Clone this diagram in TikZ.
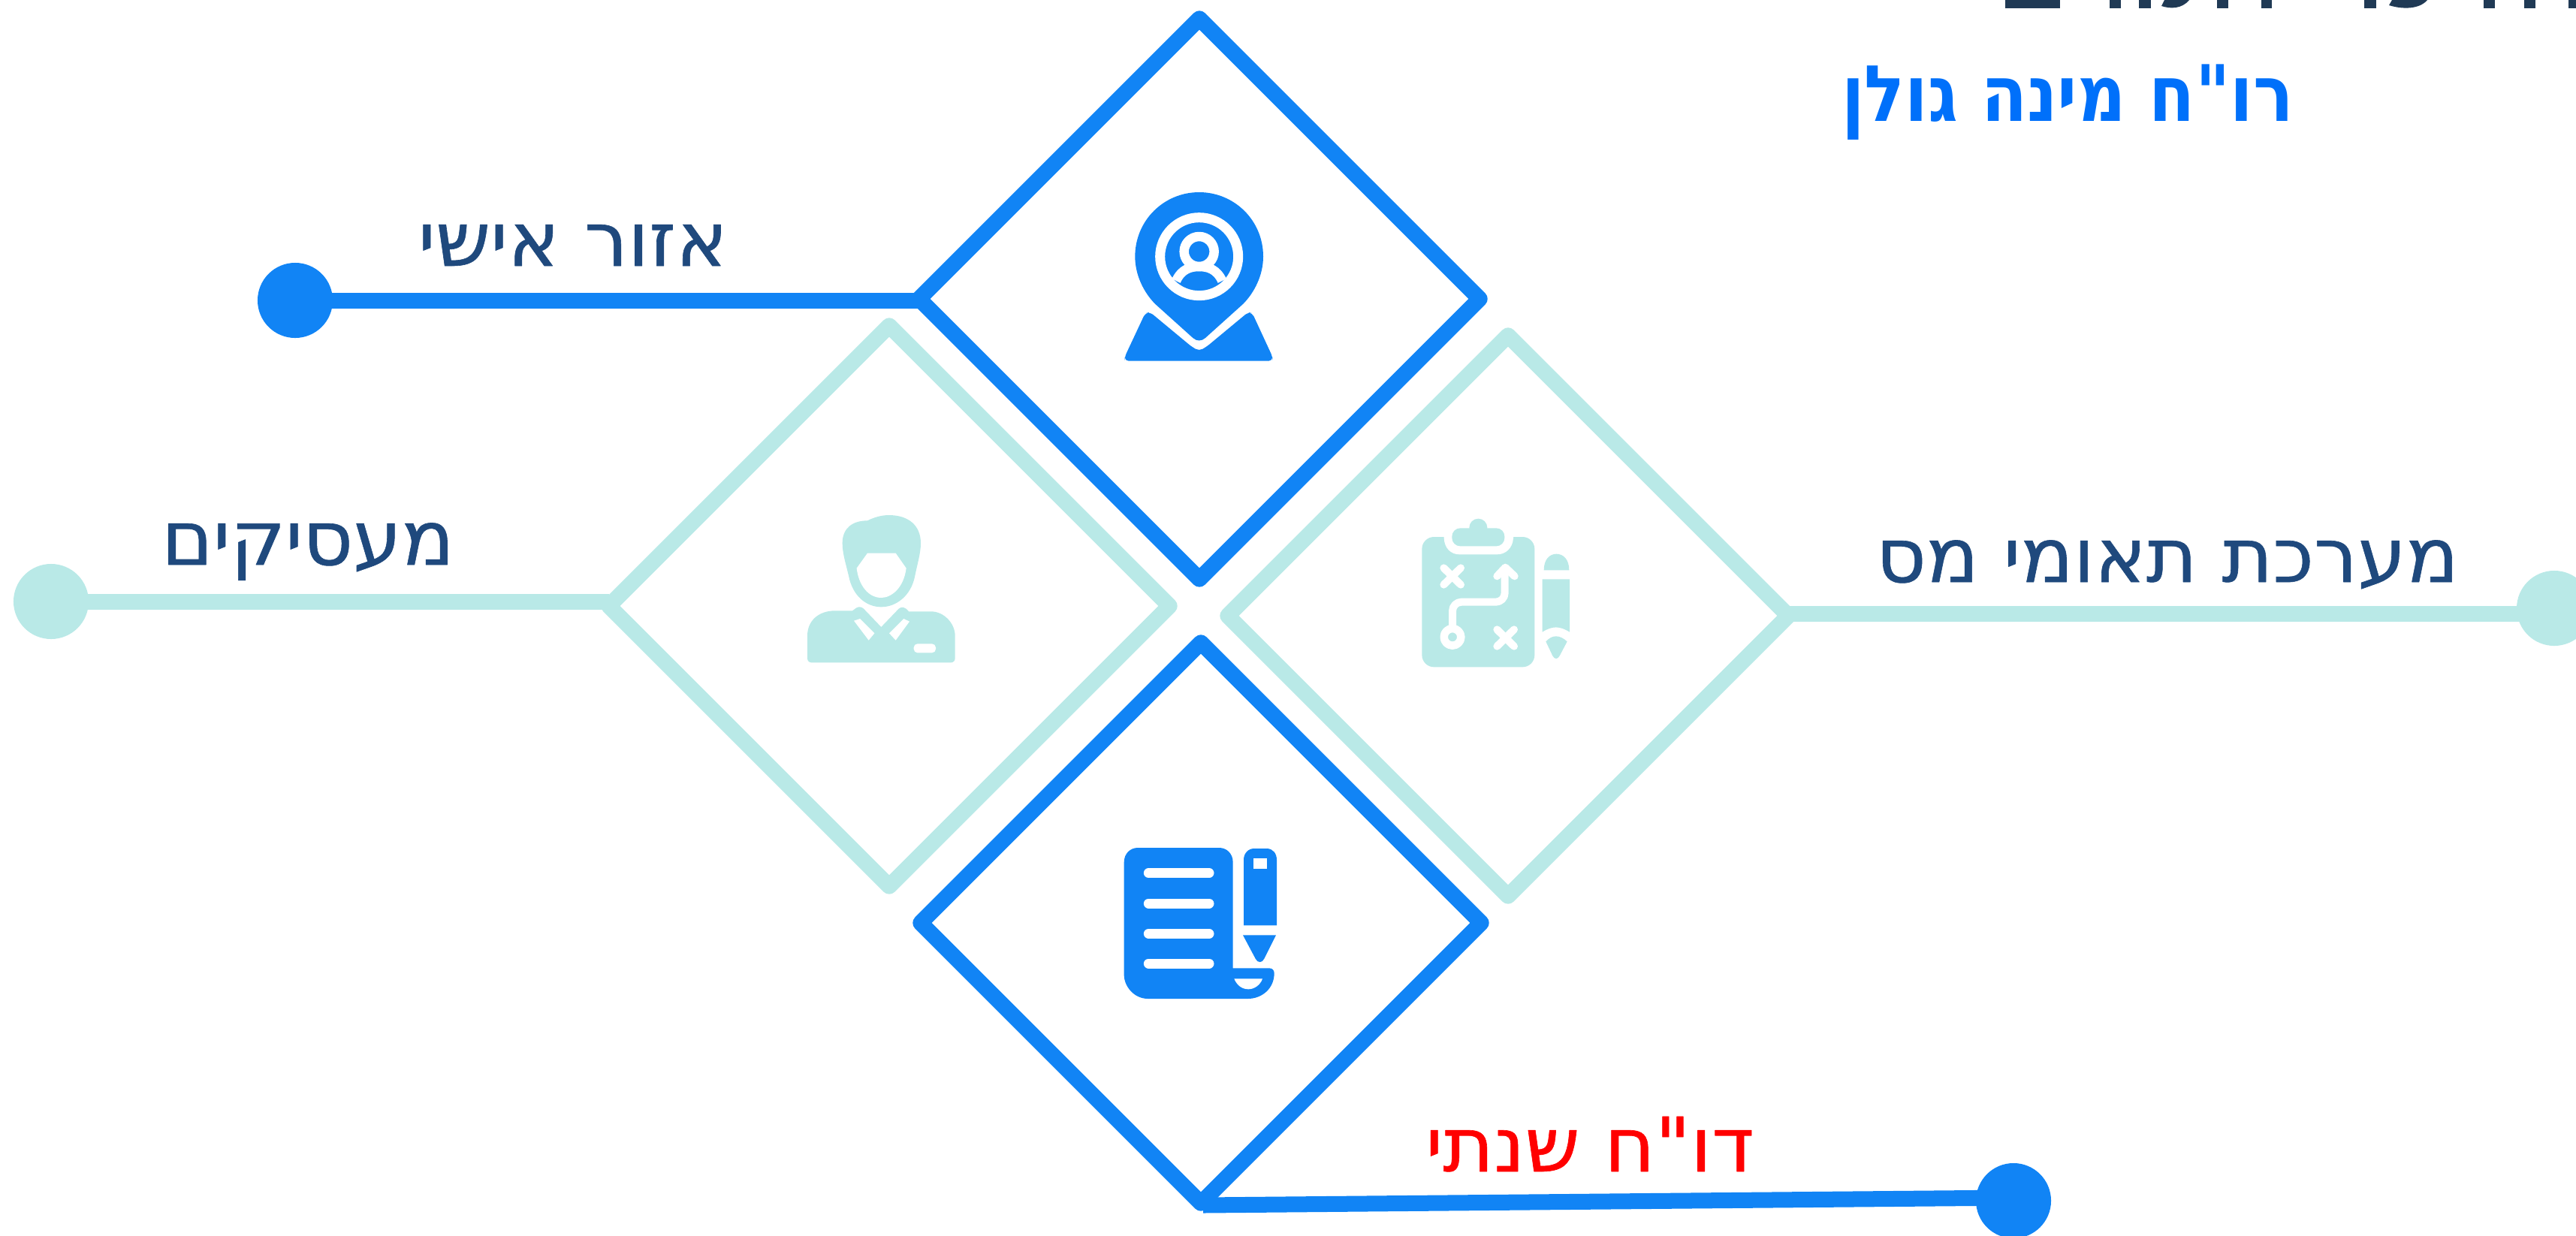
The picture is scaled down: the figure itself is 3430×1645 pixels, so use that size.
\documentclass[tikz,border=0pt]{standalone}
\usepackage{fontspec}
\usetikzlibrary{shapes.geometric}
\TeXXeTstate=1
\newfontfamily\hebfont[Script=Hebrew,FakeStretch=1.03,FakeBold=0.6]{DejaVu Sans}
\newfontfamily\hebbold[Script=Hebrew,FakeStretch=0.86]{DejaVu Sans Bold}
\definecolor{blueline}{HTML}{1184F5}
\definecolor{lightline}{HTML}{B9E9E7}
\definecolor{textblue}{HTML}{1F497D}
\definecolor{namecolor}{HTML}{0070FA}
\definecolor{titlecolor}{HTML}{203A55}
\tikzset{
  shapebox/.style={diamond,draw,aspect=1,minimum width=7.46cm,minimum height=7.46cm,inner sep=0pt,outer sep=0pt,line width=0.21cm},
  enddot/.style={circle,minimum size=1cm,inner sep=0pt,outer sep=0pt},
  link/.style={line width=0.21cm,line cap=butt},
  itemtext/.style={anchor=base,inner sep=0pt,font=\fontsize{28.5}{32}\selectfont}
}
\begin{document}
\begin{tikzpicture}[line cap=round,line join=round,x=0.01cm,y=-0.01cm]
\useasboundingbox (0,0) rectangle (3430,1645);
%what is left of the cut title
\foreach \a/\b in {2670/2743,2809/2824,2848/2864,2952/2967,3011/3025,3148/3164,3307/3322,3361/3376,3420/3430}
{\fill[titlecolor] (\a,0) rectangle (\b,11);
}
\fill[titlecolor] (2878,8) .. controls (2890,12) and (2905,12) .. (2915,0) -- (2882,0) -- cycle;
\fill[titlecolor] (3181,7) .. controls (3200,13) and (3222,12) .. (3232,0) -- (3185,0) -- cycle;
\node[anchor=base,inner sep=0pt,color=namecolor,font=\fontsize{29.5}{32}\selectfont] (nametext) at (2753,161) {\hebbold\beginR רו"ח מינה גולן\endR};

%diamonds
\node[shapebox,color=blueline] (topshape) at (1597,398) {};
\node[shapebox,color=lightline] (leftshape) at (1184,807) {};
\node[shapebox,color=lightline] (rightshape) at (2008,820) {};
\node[shapebox,color=blueline] (botshape) at (1599,1229) {};

%end points
\node[enddot,fill=blueline] (topdot) at (393,400) {};
\node[enddot,fill=lightline] (leftdot) at (68,801) {};
\node[enddot,fill=lightline] (rightdot) at (3401,810) {};
\node[enddot,fill=blueline] (botdot) at (2681,1599) {};
\coordinate (rightend) at (3401,817);
\coordinate (botstart) at (1602,1605);
\coordinate (botend) at (2681,1595);
\draw[link,color=blueline] (topdot.center) -- (topdot.center -| topshape.west);
\draw[link,color=lightline] (leftdot.center) -- (leftdot.center -| leftshape.west);
\draw[link,color=lightline] (rightend) -- (rightend -| rightshape.east);
\draw[link,color=blueline] (botstart) -- (botend);

%labels
\node[itemtext,color=textblue] (toptext) at (763,354) {\hebfont\beginR אזור אישי\endR};
\node[itemtext,color=textblue] (lefttext) at (410,752) {\hebfont\beginR מעסיקים\endR};
\node[itemtext,color=textblue] (righttext) at (2886,775) {\hebfont\beginR מערכת תאומי מס\endR};
\node[itemtext,color=red] (bottext) at (2117,1560) {\hebfont\beginR דו"ח שנתי\endR};

%pin icon
\begin{scope}[shift={(1460,230)},scale=1/3]
\fill[blueline,rounded corners=0.05cm] (113,752) -- (113,735) -- (195,560) -- (215,558) -- (380,695) -- (410,712) -- (440,695) -- (605,558) -- (622,560) -- (703,735) -- (703,752) -- cycle;
\fill[blueline] (410,78) .. controls (550,78) and (666,190) .. (666,335) .. controls (666,410) and (630,480) .. (585,525) -- (435,660) .. controls (420,674) and (400,674) .. (385,660) -- (235,525) .. controls (190,480) and (154,410) .. (154,335) .. controls (154,190) and (270,78) .. (410,78) -- cycle;
\draw[white,line width=0.13cm] (410,335) circle [radius=156];
\draw[white,line width=0.125cm] (410,315) circle [radius=60];
\draw[white,line width=0.125cm,line cap=butt] (318,432) .. controls (340,385) and (375,375) .. (410,375) .. controls (445,375) and (480,385) .. (502,432);
\end{scope}

%person icon
\begin{scope}[shift={(1040,660)},scale=1/3]
\fill[lightline] (245,190) .. controls (245,130) and (285,100) .. (345,100) .. controls (375,85) and (405,78) .. (430,78) .. controls (510,78) and (558,120) .. (558,190) .. controls (558,230) and (545,270) .. (535,320) .. controls (520,400) and (460,445) .. (400,445) .. controls (340,445) and (285,400) .. (270,320) .. controls (258,270) and (245,230) .. (245,190) -- cycle;
\fill[white] (345,230) -- (458,230) -- (500,290) .. controls (490,370) and (440,408) .. (400,408) .. controls (350,408) and (310,360) .. (302,290) -- cycle;
\fill[lightline] (105,560) .. controls (105,500) and (150,460) .. (215,460) -- (285,460) -- (300,449) .. controls (310,443) and (320,443) .. (330,452) -- (400,525) -- (470,452) .. controls (480,443) and (495,443) .. (510,463) -- (600,463) .. controls (650,463) and (695,510) .. (695,560) -- (695,650) .. controls (695,660) and (688,667) .. (678,667) -- (122,667) .. controls (112,667) and (105,660) .. (105,650) -- cycle;
\fill[white] (291,500) -- (315,492) -- (373,550) -- (350,578) -- cycle;
\fill[white] (513,503) -- (490,492) -- (432,550) -- (458,578) -- cycle;
\fill[white,rounded corners=0.05cm] (530,592) rectangle (618,628);
\end{scope}

%clipboard icon
\begin{scope}[shift={(1860,690)},scale=1/3]
\fill[lightline,rounded corners=0.16cm] (100,75) rectangle (550,595);
\fill[white] (188,60) -- (188,80) .. controls (190,120) and (215,145) .. (250,145) -- (400,145) .. controls (435,145) and (462,120) .. (465,80) -- (465,60) -- cycle;
\fill[lightline,rounded corners=0.11cm] (220,40) rectangle (430,112);
\fill[lightline] (325,38) circle [radius=36];
\draw[white,line width=0.1cm] (187,199) -- (255,266) (255,199) -- (187,266);
\draw[white,line width=0.1cm] (400,445) -- (468,512) (468,445) -- (400,512);
\draw[white,line width=0.105cm] (222,475) circle [radius=34];
\draw[white,line width=0.1cm,rounded corners=0.12cm] (222,440) -- (222,335) -- (431,335) -- (431,205);
\draw[white,line width=0.1cm] (400,232) -- (433,197) -- (470,232);
\fill[lightline] (587,208) .. controls (587,165) and (610,143) .. (637,143) .. controls (665,143) and (688,165) .. (688,208) -- cycle;
\fill[lightline] (581,244) -- (690,244) -- (690,455) .. controls (650,430) and (620,430) .. (581,455) -- cycle;
\fill[lightline] (595,493) .. controls (620,465) and (650,465) .. (680,493) -- (650,550) .. controls (642,565) and (630,565) .. (622,550) -- cycle;
\end{scope}

%report icon
\begin{scope}[shift={(1470,1110)},scale=1/3]
\fill[blueline] (80,115) .. controls (80,80) and (105,57) .. (135,57) -- (460,57) .. controls (490,57) and (515,80) .. (515,115) -- (515,538) -- (660,538) .. controls (672,538) and (680,546) .. (680,558) .. controls (680,620) and (630,660) .. (575,660) -- (175,660) .. controls (120,660) and (80,610) .. (80,565) -- cycle;
\foreach \y in {158,279,400,519}
{\draw[white,line width=0.13cm] (178,\y) -- (420,\y);
}
\fill[white] (520,580) -- (633,580) .. controls (625,605) and (600,622) .. (577,622) .. controls (550,622) and (530,605) .. (520,580) -- cycle;
\fill[blueline] (558,367) -- (558,105) .. controls (558,80) and (575,60) .. (600,60) -- (650,60) .. controls (675,60) and (690,80) .. (690,105) -- (690,367) -- cycle;
\fill[white] (598,100) rectangle (651,140);
\fill[blueline] (555,406) -- (687,406) -- (640,500) .. controls (632,518) and (613,518) .. (605,500) -- cycle;
\end{scope}
\end{tikzpicture}
\end{document}
